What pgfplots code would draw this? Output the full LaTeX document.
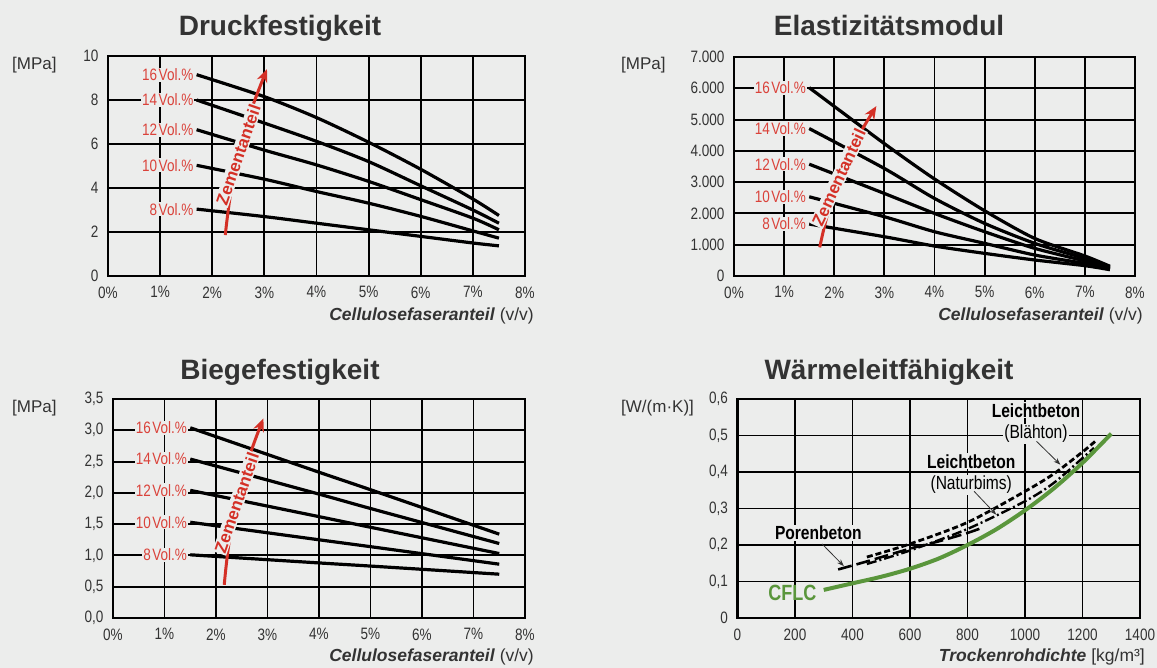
\documentclass[border=0pt]{standalone}
\usepackage{fontspec}
\setmainfont{Liberation Sans}
\newfontfamily\narrow[FakeStretch=0.82]{Liberation Sans}
\usepackage{pgfplots}
\pgfplotsset{compat=1.18}
\usetikzlibrary{arrows.meta}
\definecolor{bg}{RGB}{236,237,236}
\definecolor{myred}{RGB}{212,48,38}
\definecolor{labred}{RGB}{218,66,58}
\definecolor{mygreen}{RGB}{90,150,60}
\definecolor{txt}{RGB}{51,51,51}
\newcommand\tf{\narrow\fontsize{16.5}{18}\selectfont}
\pgfplotsset{
 panel/.style={scale only axis, clip=false, anchor=south west,
   grid=major, major grid style={black,line width=1.9pt},
   axis line style={black,line width=2.8pt}, tick style={draw=none},
   ticklabel style={font=\tf, text=txt},
   yticklabel style={xshift=-6pt}, xticklabel style={yshift=-7pt}},
 pct/.style={xmin=0,xmax=8,xtick={0,1,2,3,4,5,6,7,8},
   xticklabels={0\%,1\%,2\%,3\%,4\%,5\%,6\%,7\%,8\%}},
 curve/.style={black, line width=3.2pt, line join=round, no markers, smooth, tension=0.45},
}
\tikzset{
 vol/.style={font=\tf, text=labred, fill=bg, inner sep=1pt, anchor=east},
 zem/.style={font=\bfseries\fontsize{17}{19}\selectfont, text=myred, fill=bg, inner sep=1pt},
 zarrow/.style={myred, line width=3pt, -{Stealth[length=13pt,width=11pt]}},
 ann/.style={font=\narrow\fontsize{19}{21}\selectfont, text=black, fill=bg, inner sep=1pt},
 lead/.style={black!80, line width=0.8pt, -{Stealth[length=7pt,width=5pt]}},
}
\newcommand\vl[1]{#1\kern1.5pt Vol.\%}
\begin{document}
\begin{tikzpicture}
\fill[bg] (0,0) rectangle (1157pt,668pt);
% ---------- Titles ----------
\begin{scope}[every node/.style={font=\bfseries\fontsize{28}{30}\selectfont, text=txt, anchor=base}]
\node at (280pt,632pt) {Druckfestigkeit};
\node at (889pt,632pt) {Elastizitätsmodul};
\node at (280pt,288pt) {Biegefestigkeit};
\node at (889pt,288pt) {Wärmeleitfähigkeit};
\end{scope}
\begin{scope}[every node/.style={font=\fontsize{17}{19}\selectfont, text=txt, anchor=base west, inner sep=0pt}]
\node at (12pt,598pt) {[MPa]};
\node at (621pt,598pt) {[MPa]};
\node at (12pt,255pt) {[MPa]};
\node at (621pt,255pt) {[W/(m·K)]};
\end{scope}
\begin{scope}[every node/.style={font=\fontsize{17.5}{19}\selectfont, text=txt, anchor=base east, inner sep=0pt}]
\node at (534pt,347pt) {\textbf{\textit{Cellulosefaseranteil}} (v/v)};
\node at (1143pt,347pt) {\textbf{\textit{Cellulosefaseranteil}} (v/v)};
\node at (534pt,6pt) {\textbf{\textit{Cellulosefaseranteil}} (v/v)};
\node at (1145pt,6pt) {\textbf{\textit{Trockenrohdichte}} [kg/m³]};
\end{scope}
% ---------- Druckfestigkeit ----------
\begin{axis}[panel, pct, at={(108pt,392pt)}, width=417pt, height=220pt,
  ymin=0, ymax=10, ytick={0,2,4,6,8,10}, yticklabels={0,2,4,6,8,10}]
\addplot[curve] coordinates {(1.7,9.15)(3,8.15)(4,7.2)(5,6.08)(6,4.85)(7,3.5)(7.5,2.75)};
\addplot[curve] coordinates {(1.7,8.0)(3,6.95)(4,6.12)(5,5.2)(6,4.1)(7,3.0)(7.5,2.4)};
\addplot[curve] coordinates {(1.7,6.65)(3,5.72)(4,5.05)(5,4.3)(6,3.47)(7,2.63)(7.5,2.1)};
\addplot[curve] coordinates {(1.7,5.03)(3,4.4)(4,3.84)(5,3.31)(6,2.71)(7,2.05)(7.5,1.72)};
\addplot[curve] coordinates {(1.7,3.04)(3,2.7)(4,2.4)(5,2.1)(6,1.8)(7,1.5)(7.5,1.37)};
\node[vol] at (axis cs:1.66,9.15) {\vl{16}};
\node[vol] at (axis cs:1.66,8.0) {\vl{14}};
\node[vol] at (axis cs:1.66,6.65) {\vl{12}};
\node[vol] at (axis cs:1.66,5.03) {\vl{10}};
\node[vol] at (axis cs:1.66,3.04) {\vl{8}};
\draw[zarrow] (axis cs:2.25,1.86) to[bend left=8] (axis cs:3.05,9.4);
\node[zem, rotate=71] at (axis cs:2.5,5.5) {Zementanteil};
\end{axis}
% ---------- Elastizitaetsmodul ----------
\begin{axis}[panel, pct, at={(734pt,392pt)}, width=401pt, height=219pt,
  ymin=0, ymax=7000, ytick={0,1000,2000,3000,4000,5000,6000,7000},
  yticklabels={0,1.000,2.000,3.000,4.000,5.000,6.000,7.000}]
\addplot[curve] coordinates {(1.5,6020)(3,4230)(4,3100)(5,2085)(6,1200)(7,640)(7.5,310)};
\addplot[curve] coordinates {(1.5,4713)(3,3436)(4,2479)(5,1681)(6,1043)(7,560)(7.5,280)};
\addplot[curve] coordinates {(1.5,3574)(3,2638)(4,2000)(5,1415)(6,883)(7,480)(7.5,250)};
\addplot[curve] coordinates {(1.5,2532)(3,1894)(4,1415)(5,1043)(6,670)(7,400)(7.5,220)};
\addplot[curve] coordinates {(1.5,1660)(3,1255)(4,957)(5,723)(6,511)(7,330)(7.5,200)};
\node[vol] at (axis cs:1.46,6020) {\vl{16}};
\node[vol] at (axis cs:1.46,4713) {\vl{14}};
\node[vol] at (axis cs:1.46,3574) {\vl{12}};
\node[vol] at (axis cs:1.46,2532) {\vl{10}};
\node[vol] at (axis cs:1.46,1660) {\vl{8}};
\draw[zarrow] (axis cs:1.71,915) to[bend left=10] (axis cs:2.84,5430);
\node[zem, rotate=65] at (axis cs:2.09,3150) {Zementanteil};
\end{axis}
% ---------- Biegefestigkeit ----------
\begin{axis}[panel, pct, at={(113pt,50pt)}, width=412pt, height=219pt,
  ymin=0, ymax=3.5, ytick={0,0.5,1,1.5,2,2.5,3,3.5},
  yticklabels={{0,0},{0,5},{1,0},{1,5},{2,0},{2,5},{3,0},{3,5}}]
\addplot[curve] coordinates {(1.5,3.04)(4,2.33)(5,2.05)(7.5,1.34)};
\addplot[curve] coordinates {(1.5,2.54)(4,1.98)(5,1.75)(7.5,1.19)};
\addplot[curve] coordinates {(1.5,2.04)(4,1.62)(5,1.45)(7.5,1.03)};
\addplot[curve] coordinates {(1.5,1.53)(4,1.25)(5,1.14)(7.5,0.86)};
\addplot[curve] coordinates {(1.5,1.01)(4,0.88)(5,0.83)(7.5,0.70)};
\node[vol] at (axis cs:1.46,3.04) {\vl{16}};
\node[vol] at (axis cs:1.46,2.54) {\vl{14}};
\node[vol] at (axis cs:1.46,2.04) {\vl{12}};
\node[vol] at (axis cs:1.46,1.53) {\vl{10}};
\node[vol] at (axis cs:1.46,1.01) {\vl{8}};
\draw[zarrow] (axis cs:2.16,0.53) to[bend left=8] (axis cs:2.92,3.19);
\node[zem, rotate=71] at (axis cs:2.4,1.84) {Zementanteil};
\end{axis}
% ---------- Waermeleitfaehigkeit ----------
\begin{axis}[panel, at={(737.5pt,50pt)}, width=402.5pt, height=219pt,
  xmin=0, xmax=1400, xtick={0,200,400,600,800,1000,1200,1400},
  xticklabels={0,200,400,600,800,1000,1200,1400},
  ymin=0, ymax=0.6, ytick={0,0.1,0.2,0.3,0.4,0.5,0.6},
  yticklabels={0,{0,1},{0,2},{0,3},{0,4},{0,5},{0,6}}]
\addplot[black, line width=2.6pt, no markers, smooth, dash pattern=on 14pt off 5pt]
  coordinates {(350,0.133)(450,0.155)(600,0.19)(700,0.21)(800,0.233)(850,0.247)};
\addplot[black, line width=2.4pt, no markers, smooth, dash pattern=on 10pt off 3pt on 2pt off 3pt]
  coordinates {(450,0.148)(600,0.185)(800,0.244)(1000,0.32)(1100,0.37)(1200,0.438)(1240,0.466)};
\addplot[black, line width=2.8pt, no markers, smooth, dash pattern=on 6pt off 3pt]
  coordinates {(450,0.167)(600,0.203)(800,0.262)(1000,0.347)(1100,0.395)(1200,0.455)(1250,0.488)};
\addplot[mygreen, line width=4pt, no markers, smooth]
  coordinates {(300,0.077)(400,0.095)(500,0.113)(600,0.135)(700,0.163)(800,0.2)(900,0.243)(1000,0.295)(1100,0.355)(1200,0.425)(1300,0.505)};
\node[ann, font=\narrow\bfseries\fontsize{19}{21}\selectfont] at (axis cs:281,0.233) {Porenbeton};
\draw[lead] (axis cs:294,0.203) -- (axis cs:370,0.142);
\node[ann, font=\narrow\bfseries\fontsize{19}{21}\selectfont] at (axis cs:813,0.429) {Leichtbeton};
\node[ann] at (axis cs:813,0.365) {(Naturbims)};
\draw[lead] (axis cs:823,0.347) -- (axis cs:900,0.283);
\node[ann, font=\narrow\bfseries\fontsize{19}{21}\selectfont] at (axis cs:1038,0.569) {Leichtbeton};
\node[ann] at (axis cs:1038,0.505) {(Blähton)};
\draw[lead] (axis cs:1040,0.484) -- (axis cs:1123,0.42);
\node[font=\narrow\bfseries\fontsize{22}{24}\selectfont, text=mygreen, inner sep=1pt] at (axis cs:191,0.068) {CFLC};
\end{axis}
\pgfresetboundingbox
\path[use as bounding box] (0,0) rectangle (1157pt,668pt);
\end{tikzpicture}
\end{document}
